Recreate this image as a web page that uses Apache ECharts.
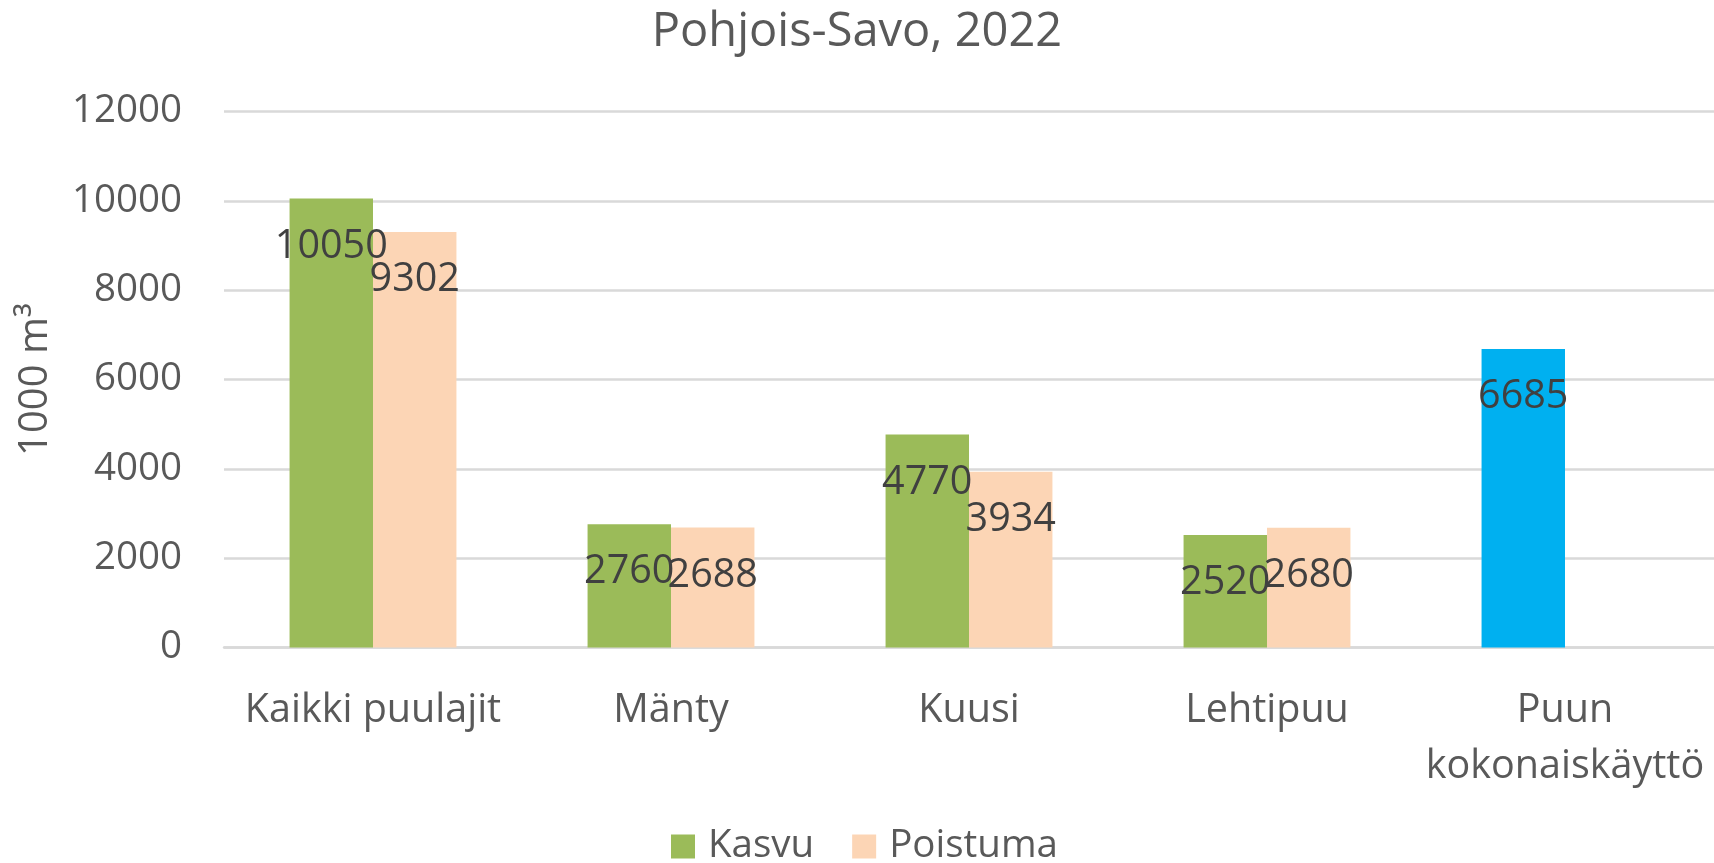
<!DOCTYPE html>
<html>
<head>
<meta charset="utf-8">
<script src="https://cdn.jsdelivr.net/npm/echarts@6/dist/echarts.min.js"></script>
<style>html,body{margin:0;padding:0;background:#fff}#c{width:1714px;height:863px}</style>
</head>
<body>
<div id="c"></div>
<script>
const categories = ['Kaikki puulajit', 'Mänty', 'Kuusi', 'Lehtipuu', 'Puun\nkokonaiskäyttö'];
const kasvu = [10050, 2760, 4770, 2520, 6685];
const poistuma = [9302, 2688, 3934, 2680, null];
const seriesNames = ['Kasvu', 'Poistuma'];
const titleText = 'Pohjois-Savo, 2022';
const yAxisName = '1000 m³';
const yTicks = {min: 0, max: 12000, interval: 2000};

const FONT = '"Open Sans", "DejaVu Sans", sans-serif';
const GREEN = '#9BBB59', PEACH = '#FCD5B5', BLUE = '#00B0F0';
const kasvuData = kasvu.map((v, i) => i === kasvu.length - 1 ? {value: v, itemStyle: {color: BLUE}} : v);

const chart = echarts.init(document.getElementById('c'));
const labelStyle = {show: true, position: 'insideTop', distance: 28, color: '#404040', fontSize: 39.5, fontFamily: FONT};
chart.setOption({
  animation: false,
  title: {text: titleText, left: 'center', top: 9, padding: 0,
    textStyle: {fontFamily: FONT, fontSize: 47, fontWeight: 'normal', color: '#595959'}},
  legend: {left: 666, bottom: -8, itemWidth: 24, itemHeight: 24, itemGap: 38,
    textStyle: {fontFamily: FONT, fontSize: 38.5, color: '#595959', padding: [0, 0, 0, 8]}, icon: 'rect', data: seriesNames},
  grid: {left: 224, width: 1492, top: 111.5, height: 536, containLabel: false},
  xAxis: {type: 'category', data: categories,
    axisLine: {lineStyle: {color: '#D9D9D9', width: 2.5}}, axisTick: {show: false},
    axisLabel: {fontFamily: FONT, fontSize: 39.5, color: '#595959', margin: 35, lineHeight: 56, interval: 0}},
  yAxis: {type: 'value', min: yTicks.min, max: yTicks.max, interval: yTicks.interval,
    name: yAxisName, nameLocation: 'middle', nameRotate: 90, nameGap: 168,
    nameTextStyle: {fontFamily: FONT, fontSize: 40, color: '#595959'},
    axisLine: {show: false}, axisTick: {show: false},
    splitLine: {lineStyle: {color: '#D9D9D9', width: 2.5}},
    axisLabel: {fontFamily: FONT, fontSize: 38.5, color: '#595959', margin: 42, formatter: v => String(v)}},
  series: [
    {name: seriesNames[0], type: 'bar', data: kasvuData, itemStyle: {color: GREEN},
      barGap: '0%', barCategoryGap: '44%', label: labelStyle},
    {name: seriesNames[1], type: 'bar', data: poistuma, itemStyle: {color: PEACH},
      barGap: '0%', barCategoryGap: '44%', label: labelStyle}
  ]
});
</script>
</body>
</html>
